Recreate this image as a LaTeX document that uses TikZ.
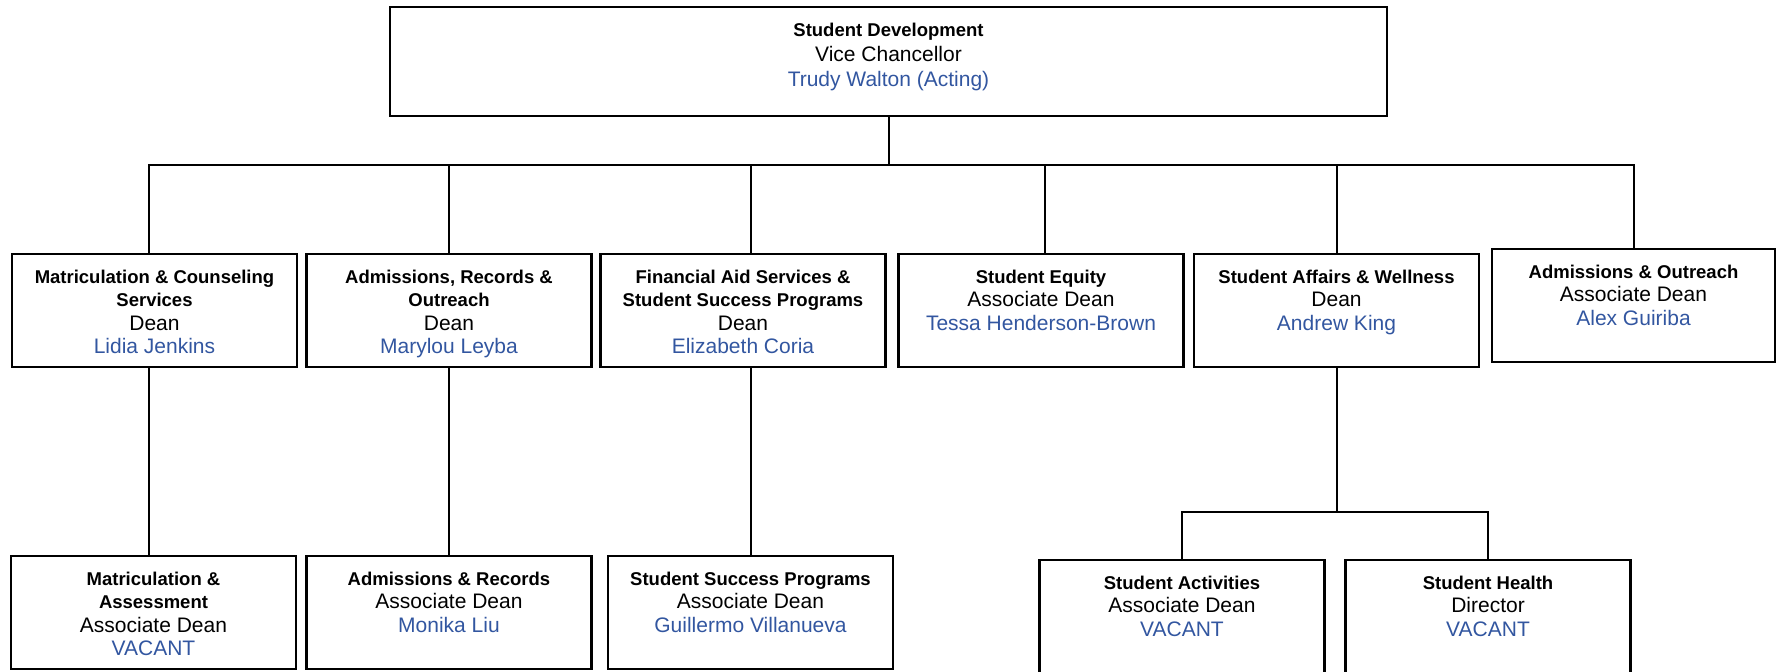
\documentclass[tikz,border=0pt]{standalone}
\usepackage{fontspec}
\setmainfont{Liberation Sans}
\definecolor{nameblue}{RGB}{50,86,160}
\newcommand{\ttl}[1]{{\fontsize{9.25}{11.75}\selectfont\bfseries #1}}
\tikzset{
	unit/.style={draw, line width=1.1pt, inner sep=0, outer sep=0, minimum width=142.5pt, minimum height=56.5pt},
	unittext/.style={anchor=north, align=center, inner sep=0, yshift=-7.7pt, font=\fontsize{10.5}{11.75}\selectfont},
	link/.style={line width=1pt}
}

\begin{document}
\begin{tikzpicture}[x=0.5pt, y=-0.5pt]
			\useasboundingbox (0,0) rectangle (1776,671);
			% top
			\node (sdvc) [unit, minimum width=498.5pt, minimum height=54.5pt, label={[unittext, font=\fontsize{10.5}{12.5}\selectfont]90:{\ttl{Student Development}\\ Vice Chancellor\\ {\color{nameblue}Trudy Walton (Acting)}}}] at (888.5,61.5) {};
			% deans
			\node (mcs) [unit, label={[unittext]90:{\ttl{Matriculation \& Counseling}\\ \ttl{Services}\\ Dean\\ {\color{nameblue}Lidia Jenkins}}}] at (154.5,310.5) {};
			\node (aro) [unit, label={[unittext]90:{\ttl{Admissions, Records \&}\\ \ttl{Outreach}\\ Dean\\ {\color{nameblue}Marylou Leyba}}}] at (449,310.5) {};
			\node (fas) [unit, label={[unittext]90:{\ttl{Financial Aid Services \&}\\ \ttl{Student Success Programs}\\ Dean\\ {\color{nameblue}Elizabeth Coria}}}] at (743,310.5) {};
			\node (seq) [unit, label={[unittext]90:{\ttl{Student Equity}\\ Associate Dean\\ {\color{nameblue}Tessa Henderson-Brown}}}] at (1041,310.5) {};
			\node (saw) [unit, label={[unittext]90:{\ttl{Student Affairs \& Wellness}\\ Dean\\ {\color{nameblue}Andrew King}}}] at (1336.5,310.5) {};
			\node (aao) [unit, minimum width=141.5pt, label={[unittext]90:{\ttl{Admissions \& Outreach}\\ Associate Dean\\ {\color{nameblue}Alex Guiriba}}}] at (1633.5,305.5) {};
			% associate deans, director
			\node (mas) [unit, label={[unittext]90:{\ttl{Matriculation \&}\\ \ttl{Assessment}\\ Associate Dean\\ {\color{nameblue}VACANT}}}] at (153.5,612.5) {};
			\node (arr) [unit, label={[unittext]90:{\ttl{Admissions \& Records}\\ Associate Dean\\ {\color{nameblue}Monika Liu}}}] at (449,612.5) {};
			\node (ssp) [unit, label={[unittext]90:{\ttl{Student Success Programs}\\ Associate Dean\\ {\color{nameblue}Guillermo Villanueva}}}] at (750.5,612.5) {};
			\node (sac) [unit, label={[unittext]90:{\ttl{Student Activities}\\ Associate Dean\\ {\color{nameblue}VACANT}}}] at (1182,616.5) {};
			\node (shl) [unit, label={[unittext]90:{\ttl{Student Health}\\ Director\\ {\color{nameblue}VACANT}}}] at (1488,616.5) {};
			\coordinate (bus) at (888.5,165);
			\coordinate (sabus) at (1336.5,512);
			\draw[link] (sdvc) -- (bus);
			\draw[link] (bus) -| ([xshift=-2.75pt]mcs.north);
			\draw[link] (bus) -| (fas.north -| ssp.north);
			\draw[link] (bus) -| ([xshift=2pt]seq.north);
			\foreach \u in {aro,saw,aao}
				\draw[link] (bus) -| (\u);
			\draw[link] ([xshift=-2.75pt]mcs.south) -- ([xshift=-2.75pt]mcs.south |- mas.north);
			\draw[link] (aro) -- (arr);
			\draw[link] (ssp.north |- fas.south) -- (ssp);
			\draw[link] (saw) -- (sabus);
			\draw[link] (sabus) -| (sac);
			\draw[link] (sabus) -| (shl);

		\end{tikzpicture}
\end{document}
